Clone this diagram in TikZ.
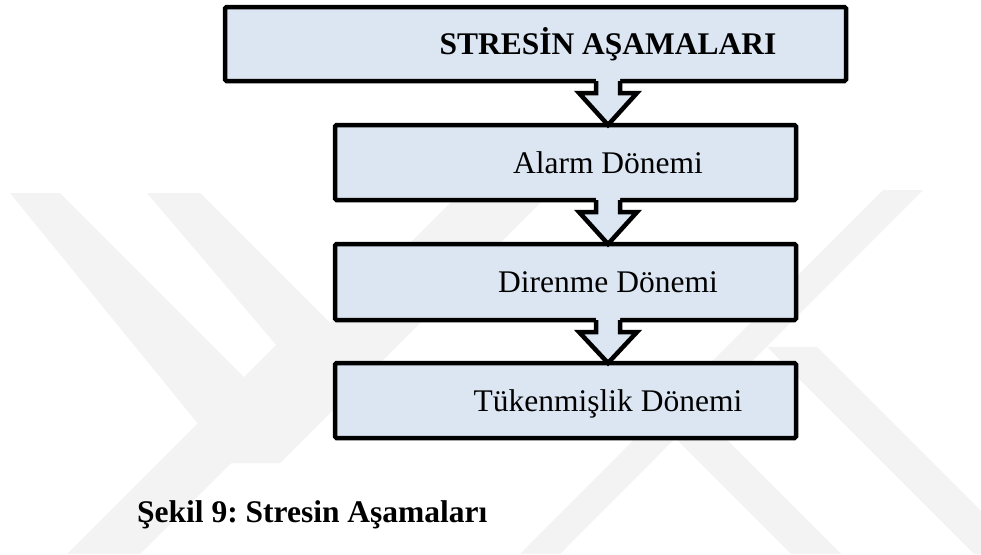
\documentclass[tikz,border=0pt]{standalone}
\usepackage{fontspec}
\setmainfont{Liberation Serif}
\usetikzlibrary{calc}
\frenchspacing

\definecolor{stagefill}{RGB}{220,230,242}
\definecolor{markgray}{RGB}{243,243,243}

% block arrow from the box #1 down to the box #2, on the axis of the text #3
\def\stagearrow#1#2#3{%
    \coordinate (t) at (#1.south -| #3);
    \coordinate (p) at (#2.north -| #3);
    \fill [stagefill] ($(t)+(-12,-4)$) -- ($(t)+(-12,12)$) -- ($(t)+(-29,12)$) -- (p)
        -- ($(t)+(29,12)$) -- ($(t)+(12,12)$) -- ($(t)+(12,-4)$) -- cycle;
    \draw [stageline] ($(t)+(-12,0)$) -- ($(t)+(-12,12)$) -- ($(t)+(-29,12)$) -- (p)
        -- ($(t)+(29,12)$) -- ($(t)+(12,12)$) -- ($(t)+(12,0)$);
}

\begin{document}
\begin{tikzpicture}[x=1pt,y=-1pt,
    stageline/.style={line width=4.5pt,line join=miter},
    stagebox/.style={draw,stageline,fill=stagefill,rounded corners=1.5pt,outer sep=0pt,inner sep=0pt},
    stagetext/.style={inner sep=0pt,text height=21pt,text depth=0pt,font=\fontsize{31.5}{36}\selectfont}]
\useasboundingbox (0,0) rectangle (981,554);
\fill [white] (0,0) rectangle (981,554);

% watermark
\fill [markgray] (10,193) -- (60,193) -- (280,413) -- (500,193) -- (550,193) -- (280,463) -- (230,463) -- cycle;
\fill [markgray] (147,193) -- (200,193) -- (330,323) -- (460,193) -- (500,193) -- (320,373) -- (300,373) -- cycle;
\fill [markgray] (883,190) -- (923,190) -- (560,554) -- (520,554) -- cycle;
\fill [markgray] (767,347) -- (817,347) -- (1024,554) -- (974,554) -- cycle;
\fill [markgray] (677,440) -- (727,440) -- (841,554) -- (791,554) -- cycle;
\fill [markgray] (67,554) -- (140,554) -- (360,334) -- (287,334) -- cycle;

% boxes
\node [stagebox,minimum width=621,minimum height=74] (stages) at (535.5,44) {};
\node [stagebox,minimum width=461,minimum height=75] (alarm) at (565.5,162.5) {};
\node [stagebox,minimum width=461,minimum height=76] (direnme) at (565.5,282) {};
\node [stagebox,minimum width=461,minimum height=75] (tukenme) at (565.5,400.5) {};

% texts
\node [stagetext,font=\fontsize{31.5}{36}\selectfont\bfseries] (stagestext) at (608,44) {STRESİN AŞAMALARI};
\node [stagetext] (alarmtext) at (608,162.5) {Alarm Dönemi};
\node [stagetext] (direnmetext) at (608,282) {Direnme Dönemi};
\node [stagetext] (tukenmetext) at (608,400.5) {Tükenmişlik Dönemi};

% arrows
\stagearrow{stages}{alarm}{alarmtext}
\stagearrow{alarm}{direnme}{direnmetext}
\stagearrow{direnme}{tukenme}{tukenmetext}

% caption
\node [anchor=base west,inner sep=0pt,font=\fontsize{31.5}{36}\selectfont\bfseries] (caption) at (137,522) {Şekil 9: Stresin Aşamaları};
\end{tikzpicture}
\end{document}
